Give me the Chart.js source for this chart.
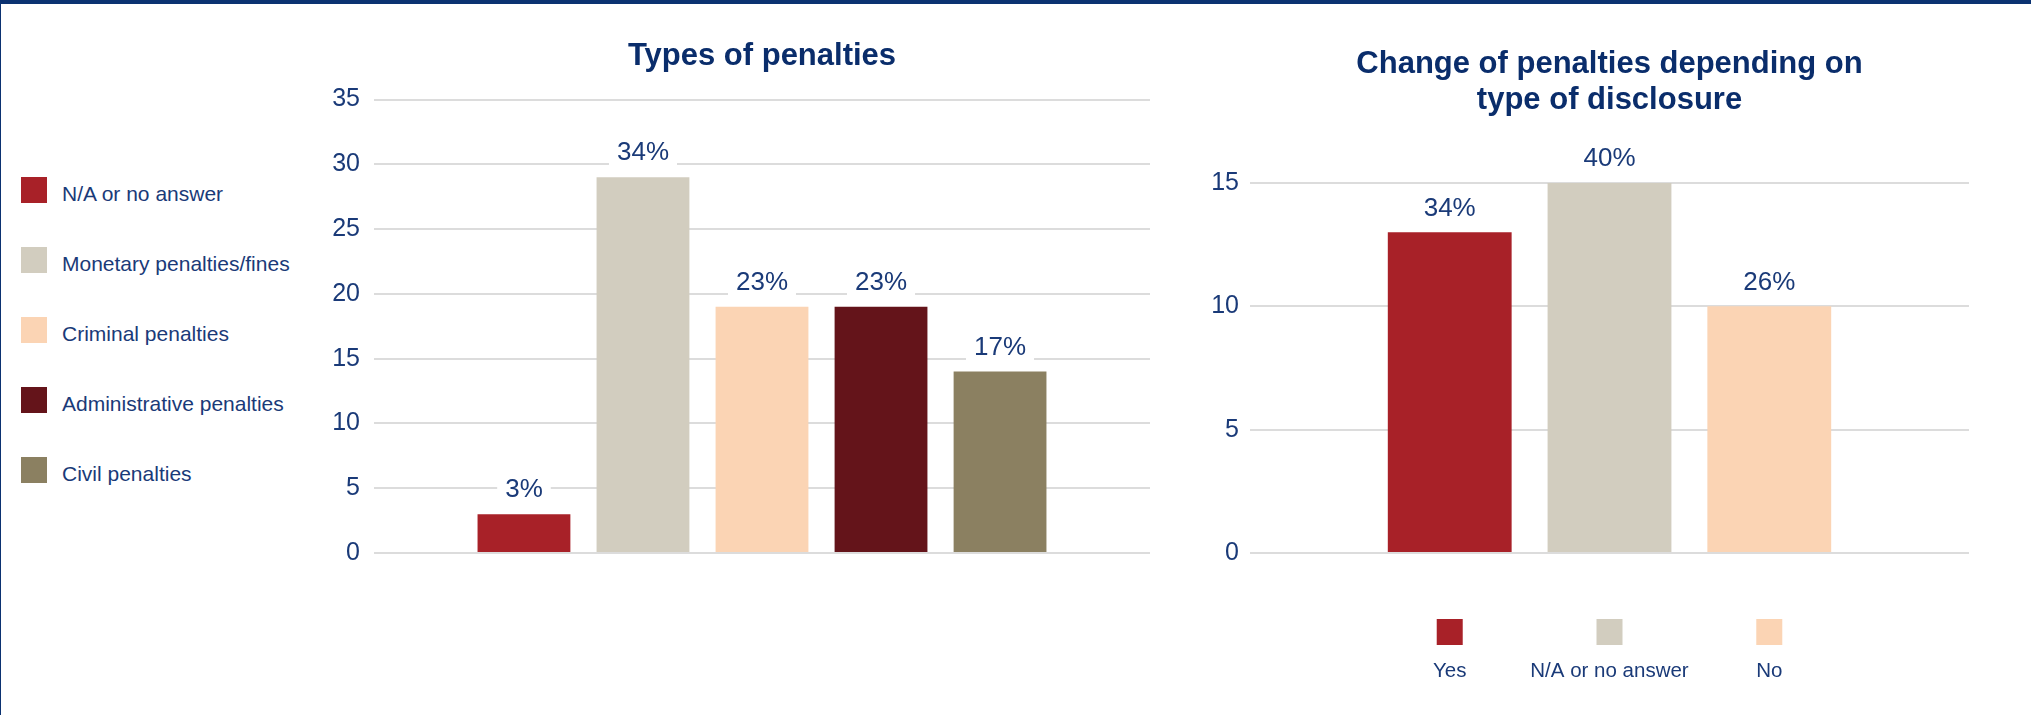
<!DOCTYPE html>
<html>
<head>
<meta charset="utf-8">
<title>Penalties</title>
<script src="https://cdn.jsdelivr.net/npm/chart.js@4.4.1/dist/chart.umd.min.js"></script>
<style>
  html, body { margin: 0; padding: 0; width: 2031px; height: 715px; overflow: hidden; background: #fff; }
  #frame { position: absolute; left: 0; top: 0; width: 2031px; height: 715px; box-sizing: border-box;
           border-top: 4px solid #0b3271; border-left: 1px solid #0b3271; }
  canvas { position: absolute; top: 0; }
  #typesChart { left: 300px; }
  #disclosureChart { left: 1190px; }
  #typesLegend { position: absolute; left: 21px; top: 177px; font: 21px "Liberation Sans", Arial, sans-serif; color: #1a3a78; }
  #typesLegend .row { position: absolute; left: 0; height: 26px; white-space: nowrap; }
  #typesLegend .box { position: absolute; left: 0; top: 0; width: 26px; height: 26px; }
  #typesLegend .txt { position: absolute; left: 41px; top: 4px; line-height: 26px; }
</style>
</head>
<body>
<div id="frame"></div>
<div id="typesLegend"></div>
<canvas id="typesChart" width="850" height="600"></canvas>
<canvas id="disclosureChart" width="779" height="715"></canvas>
<script>
const FONT = '"Liberation Sans", Arial, sans-serif';
const NAVY = '#1a3a78';
const TITLE_NAVY = '#0a2d6b';
const GRID = '#dcdcdc';

// types of penalties
const penaltyTypes = ["N/A or no answer", "Monetary penalties/fines", "Criminal penalties", "Administrative penalties", "Civil penalties"];
const penaltyCounts = [3, 29, 19, 19, 14];
const penaltyShares = ["3%", "34%", "23%", "23%", "17%"];
const penaltyColors = ["#a82128", "#d2cdbf", "#fbd4b4", "#64141a", "#8b8061"];
const penaltyTicks = [0, 5, 10, 15, 20, 25, 30, 35];

// change of penalties by type of disclosure
const disclosureTypes = ["Yes", "N/A or no answer", "No"];
const disclosureCounts = [13, 15, 10];
const disclosureShares = ["34%", "40%", "26%"];
const disclosureColors = ["#a82128", "#d2cdbf", "#fbd4b4"];
const disclosureTicks = [0, 5, 10, 15];

Chart.defaults.font.family = FONT;
Chart.defaults.color = NAVY;

// percentage over each bar, on a white patch that cuts the grid line
const shareLabels = {
  id: 'shareLabels',
  afterDatasetsDraw(chart, args, opts) {
    const ctx = chart.ctx;
    ctx.save();
    ctx.font = '26px ' + FONT;
    ctx.textAlign = 'center';
    ctx.textBaseline = 'middle';
    chart.getDatasetMeta(0).data.forEach((bar, i) => {
      const text = opts.labels[i];
      const w = ctx.measureText(text).width + 16;
      const y = bar.y - 24;
      ctx.fillStyle = '#fff';
      ctx.fillRect(bar.x - w / 2, y - 16, w, 31);
      ctx.fillStyle = NAVY;
      ctx.fillText(text, bar.x, y);
    });
    ctx.restore();
  }
};

// colour squares above the category names of the x axis
const tickSwatches = {
  id: 'tickSwatches',
  afterDraw(chart, args, opts) {
    if (!opts.colors) return;
    const ctx = chart.ctx;
    const xs = chart.scales.x;
    ctx.save();
    xs.ticks.forEach((t, i) => {
      ctx.fillStyle = opts.colors[i];
      ctx.fillRect(xs.getPixelForValue(t.value) - 13, chart.chartArea.bottom + 66, 26, 26);
    });
    ctx.restore();
  }
};

function points(values) {
  return values.map((v, i) => ({ x: i, y: v }));
}

function yAxis(max, ticks, width, pad) {
  return {
    min: 0,
    max: max,
    afterBuildTicks: s => { s.ticks = ticks.map(v => ({ value: v })); },
    afterFit: s => { s.width = width; },
    border: { display: false },
    grid: { color: GRID, lineWidth: 2, drawTicks: false },
    ticks: { padding: pad, font: { size: 25 }, color: NAVY }
  };
}

function xAxis(names, min, max, extra) {
  return Object.assign({
    type: 'linear',
    min: min,
    max: max,
    offset: false,
    afterBuildTicks: s => { s.ticks = names.map((n, i) => ({ value: i })); },
    grid: { display: false, drawTicks: false, offset: false },
    border: { display: false }
  }, extra);
}

// html legend for the left chart
const legendEl = document.getElementById('typesLegend');
penaltyTypes.forEach((name, i) => {
  const row = document.createElement('div');
  row.className = 'row';
  row.style.top = (i * 70) + 'px';
  row.innerHTML = '<span class="box" style="background:' + penaltyColors[i] + '"></span><span class="txt">' + name + '</span>';
  legendEl.appendChild(row);
});

new Chart(document.getElementById('typesChart'), {
  type: 'bar',
  data: {
    datasets: [{
      data: points(penaltyCounts),
      backgroundColor: penaltyColors,
      barPercentage: 0.78,
      categoryPercentage: 1
    }]
  },
  options: {
    responsive: false,
    animation: false,
    layout: { padding: { left: 0, right: 0, top: 0, bottom: 47 } },
    scales: {
      x: xAxis(penaltyTypes, -1.26, 5.26, { display: false }),
      y: yAxis(35, penaltyTicks, 74, 14)
    },
    plugins: {
      legend: { display: false },
      tooltip: { enabled: false },
      title: {
        display: true,
        fullSize: false,
        text: 'Types of penalties',
        color: TITLE_NAVY,
        font: { size: 31, weight: 'bold', lineHeight: 1.2 },
        padding: { top: 38, bottom: 24.3 }
      },
      shareLabels: { labels: penaltyShares }
    }
  },
  plugins: [shareLabels]
});

new Chart(document.getElementById('disclosureChart'), {
  type: 'bar',
  data: {
    datasets: [{
      data: points(disclosureCounts),
      backgroundColor: disclosureColors,
      barPercentage: 0.775,
      categoryPercentage: 1
    }]
  },
  options: {
    responsive: false,
    animation: false,
    layout: { padding: { left: 0, right: 0, top: 0, bottom: 32 } },
    scales: {
      x: xAxis(disclosureTypes, -1.25, 3.25, {
        afterFit: s => { s.height = 130; },
        ticks: {
          padding: 106,
          maxRotation: 0,
          autoSkip: false,
          font: { size: 20.5 },
          color: NAVY,
          callback: v => disclosureTypes[v]
        }
      }),
      y: yAxis(15, disclosureTicks, 60, 11)
    },
    plugins: {
      legend: { display: false },
      tooltip: { enabled: false },
      title: {
        display: true,
        fullSize: false,
        text: ['Change of penalties depending on', 'type of disclosure'],
        color: TITLE_NAVY,
        font: { size: 31, weight: 'bold', lineHeight: 1.17 },
        padding: { top: 46, bottom: 64.5 }
      },
      shareLabels: { labels: disclosureShares },
      tickSwatches: { colors: disclosureColors }
    }
  },
  plugins: [shareLabels, tickSwatches]
});
</script>
</body>
</html>
